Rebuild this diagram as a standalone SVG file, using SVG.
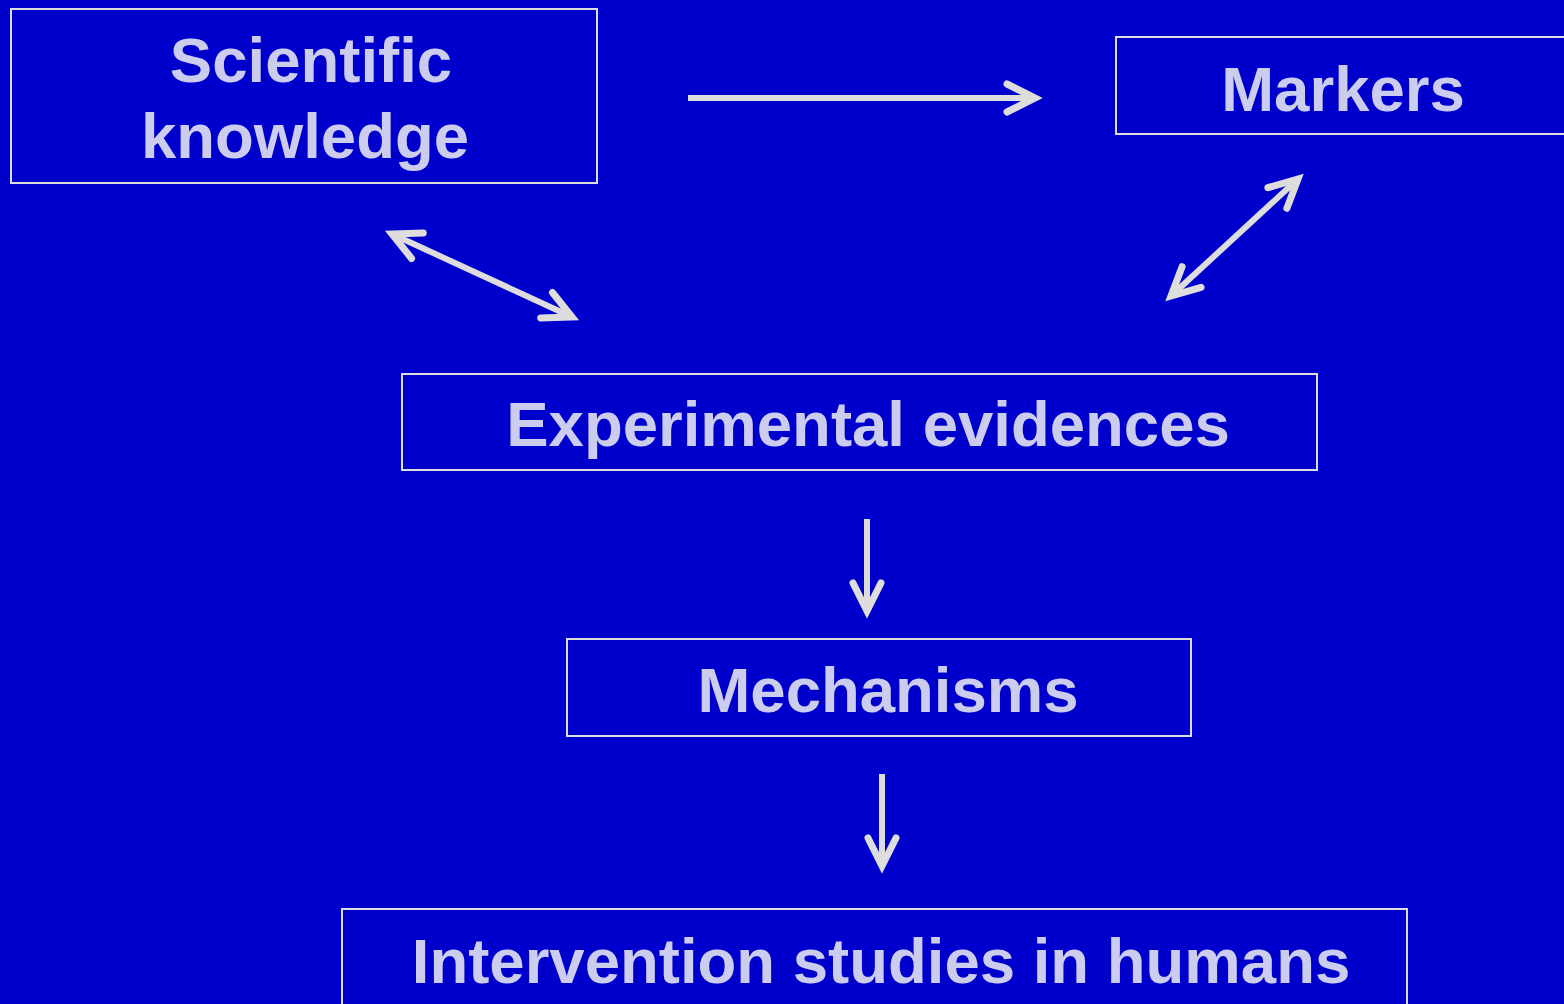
<svg xmlns="http://www.w3.org/2000/svg" width="1564" height="1004" viewBox="0 0 1564 1004">
<defs>
<style>
.box{fill:none;stroke:#DDDDDD;stroke-width:2}
.lbl{font-family:"Liberation Sans",Arial,sans-serif;font-weight:bold;font-size:63.5px;fill:#CCCCEE;text-anchor:middle}
.con{stroke:#DDDDDD;stroke-width:6;fill:none}
</style>
<marker id="ah" markerUnits="userSpaceOnUse" orient="auto-start-reverse" refX="0" refY="0" markerWidth="60" markerHeight="60" viewBox="-40 -30 60 60" overflow="visible">
<path d="M-28,-14 L0,0 L-28,14" fill="none" stroke="#DDDDDD" stroke-width="7" stroke-linecap="round" stroke-linejoin="miter"/>
</marker>
</defs>
<rect x="0" y="0" width="1564" height="1004" fill="#0000CC"/>
<g id="scientific">
<rect class="box" x="11" y="9" width="586" height="174"/>
<text class="lbl" x="311" y="82">Scientific</text>
<text class="lbl" x="305" y="158">knowledge</text>
</g>
<g id="markers">
<rect class="box" x="1116" y="37" width="460" height="97"/>
<text class="lbl" x="1343" y="111">Markers</text>
</g>
<g id="experimental">
<rect class="box" x="402" y="374" width="915" height="96"/>
<text class="lbl" x="868" y="446">Experimental evidences</text>
</g>
<g id="mechanisms">
<rect class="box" x="567" y="639" width="624" height="97"/>
<text class="lbl" x="888" y="712">Mechanisms</text>
</g>
<g id="intervention">
<rect class="box" x="342" y="909" width="1065" height="110"/>
<text class="lbl" x="881" y="983">Intervention studies in humans</text>
</g>
<g id="connectors">
<line class="con" x1="688" y1="98" x2="1035" y2="98" marker-end="url(#ah)"/>
<line class="con" x1="392" y1="234" x2="572" y2="317" marker-start="url(#ah)" marker-end="url(#ah)"/>
<line class="con" x1="1298" y1="179" x2="1171" y2="296" marker-start="url(#ah)" marker-end="url(#ah)"/>
<line class="con" x1="867" y1="519" x2="867" y2="611" marker-end="url(#ah)"/>
<line class="con" x1="882" y1="774" x2="882" y2="866" marker-end="url(#ah)"/>
</g>
</svg>
